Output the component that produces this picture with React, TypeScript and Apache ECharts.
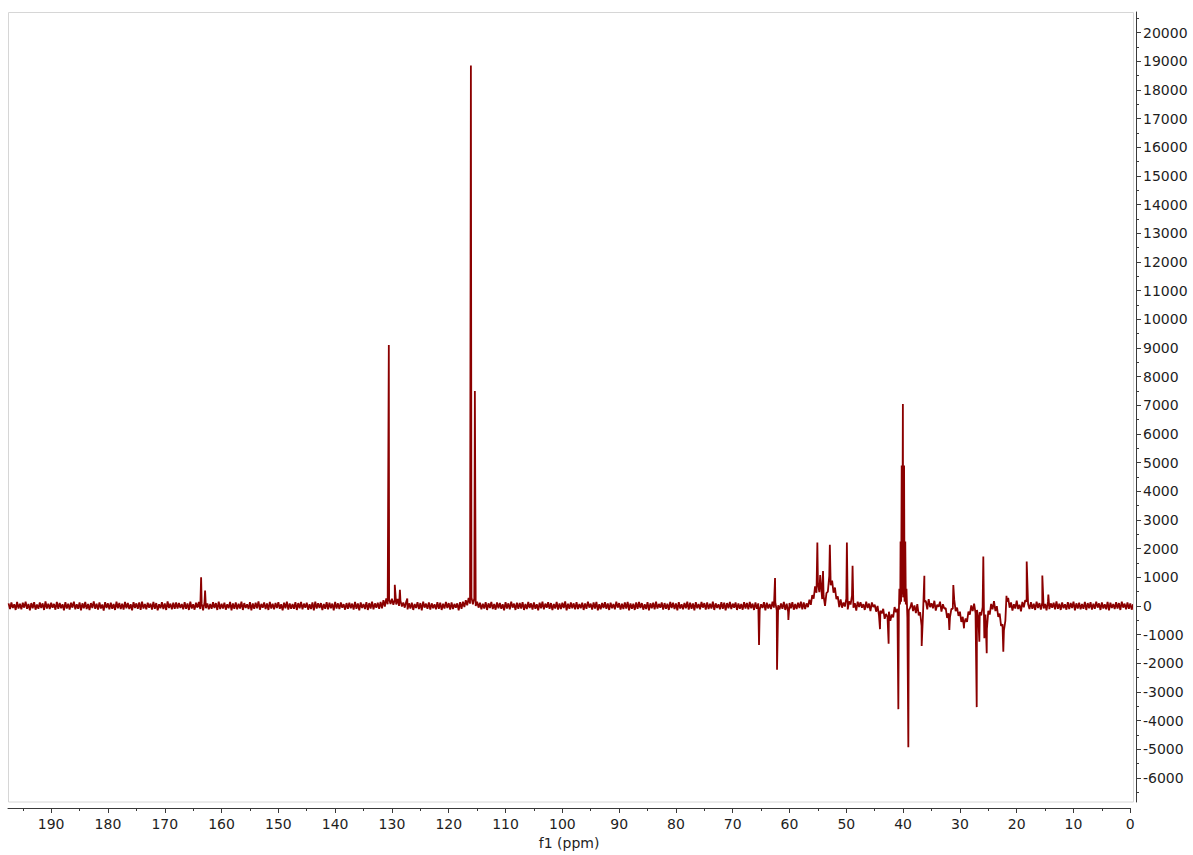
import React, { useEffect, useRef } from "react";
import * as echarts from "echarts";

// x axis: chemical shift f1 (ppm), drawn reversed (high ppm on the left)
const xMin = 0;
const xMax = 197.6;
const xMajorTicks = [0, 10, 20, 30, 40, 50, 60, 70, 80, 90, 100, 110, 120, 130, 140, 150, 160, 170, 180, 190];
const xMinorTicks = [5, 15, 25, 35, 45, 55, 65, 75, 85, 95, 105, 115, 125, 135, 145, 155, 165, 175, 185, 195];

// y axis: intensity
const yMin = -6840;
const yMax = 20720;
const yMajorTicks = [-6000, -5000, -4000, -3000, -2000, -1000, 0, 1000, 2000, 3000, 4000, 5000, 6000, 7000, 8000, 9000, 10000,
  11000, 12000, 13000, 14000, 15000, 16000, 17000, 18000, 19000, 20000];
const yMinorTicks = [-6500, -5500, -4500, -3500, -2500, -1500, -500, 500, 1500, 2500, 3500, 4500, 5500, 6500, 7500, 8500, 9500,
  10500, 11500, 12500, 13500, 14500, 15500, 16500, 17500, 18500, 19500, 20500];

// baseline: upper noise samples, one every 0.5 ppm starting at 197.5 ppm
const baselineStepPpm = 0.5;
const baselineUpperStartPpm = 197.5;
const baselineUpper = [
  90, 120, 60, 140, 80, 110, 150, 70, 100, 130, 50, 120, 90, 160, 80, 110, 70, 140, 100, 60,
  130, 80, 110, 150, 60, 120, 90, 140, 70, 100, 160, 80, 120, 50, 130, 90, 110, 70, 150, 100,
  80, 140, 100, 60, 130, 90, 120, 150, 70, 110, 80, 140, 100, 60, 130, 90, 160, 80, 110, 120,
  100, 70, 130, 90, 150, 60, 110, 140, 80, 120, 90, 70, 130, 100, 150, 80, 110, 60, 140, 90,
  120, 80, 150, 100, 60, 130, 90, 110, 160, 70, 120, 90, 140, 80, 100, 130, 60, 110, 150, 90,
  70, 130, 100, 140, 80, 110, 60, 120, 150, 90, 100, 70, 130, 110, 80, 140, 90, 120, 60, 100,
  110, 80, 140, 90, 120, 70, 130, 100, 150, 90, 110, 140, 200, 260, 230, 250, 220, 240, 180, 120,
  140, 90, 110, 70, 130, 100, 150, 80, 120, 90, 60, 130, 110, 80, 140, 100, 120, 70, 90, 130,
  150, 200, 280, 300, 260, 150, 110, 80, 130, 90, 140, 70, 120, 100, 60, 130, 90, 150, 80, 110,
  100, 130, 70, 140, 90, 120, 60, 110, 150, 80, 130, 100, 70, 140, 90, 110, 160, 80, 120, 90,
  130, 70, 110, 90, 150, 80, 120, 140, 60, 100, 130, 90, 110, 70, 150, 100, 80, 120, 140, 90,
  80, 120, 140, 100, 60, 130, 90, 110, 150, 70, 120, 100, 80, 140, 110, 90, 130, 60, 100, 150,
  110, 90, 130, 70, 140, 100, 120, 80, 150, 90, 60, 130, 110, 100, 140, 80, 120, 90, 70, 130,
  100, 140, 80, 120, 90, 60, 130, 110, 70, 150, 120, 20, 90, 140, 80, 100, 130, 70, 110, 150,
  120, 90, 220, 380, 680, 800, 820, 350, 450, 1050, 880, 640, 330, 230, 120, 250, 160, 360, 100, 150,
  130, 60, 150, 80, 120, 40, 0, -170, -100, -280, -200, -300, -40, -100, 220, 300, 250, -150, 120, 20,
  60, -220, -300, 180, 240, 90, 180, 40, 150, 60, -80, -260, -100, 220, -60, -200, -380, -440, -200, 20,
  80, -140, -220, -40, -300, -170, 70, 170, -10, -270, -640, -520, 280, 120, 60, 180, 40, 140, 200, 70,
  130, 80, 150, 100, 120, 70, 140, 90, 110, 160, 80, 120, 60, 130, 100, 150, 90, 110, 70, 140,
  100, 130, 80, 150, 90, 120, 60, 140, 110, 70, 130, 100, 150, 80, 120, 90, 60, 140, 100, 130,
];

// baseline: lower noise samples, one every 0.5 ppm starting at 197.25 ppm
const baselineLowerStartPpm = 197.25;
const baselineLower = [
  -110, -70, -140, -90, -120, -60, -100, -150, -80, -130, -100, -70, -140, -90, -110, -60, -130, -100, -80, -150,
  -90, -130, -60, -120, -100, -150, -80, -110, -140, -70, -100, -130, -90, -160, -70, -120, -100, -140, -80, -110,
  -130, -80, -110, -150, -70, -100, -140, -90, -120, -60, -130, -100, -150, -80, -110, -140, -70, -120, -100, -90,
  -70, -120, -100, -140, -90, -130, -60, -110, -150, -80, -120, -100, -70, -140, -110, -90, -130, -80, -150, -100,
  -120, -90, -140, -70, -110, -150, -100, -80, -130, -60, -110, -140, -90, -120, -70, -100, -150, -80, -130, -100,
  -100, -140, -80, -120, -60, -130, -110, -150, -90, -70, -140, -100, -120, -80, -150, -90, -110, -60, -130, -100,
  -80, -130, -100, -150, -70, -110, -140, -90, -120, -60, -100, -80, -20, 60, 70, 40, 50, 0, -20, -60,
  -120, -90, -140, -70, -110, -150, -60, -100, -130, -80, -120, -100, -140, -90, -70, -130, -110, -60, -150, -100,
  -40, 20, 80, 60, 0, -60, -120, -90, -140, -70, -110, -130, -80, -100, -150, -90, -120, -60, -140, -100,
  -90, -140, -110, -70, -130, -100, -150, -80, -120, -60, -100, -140, -90, -130, -110, -70, -150, -100, -80, -120,
  -110, -80, -140, -100, -60, -130, -90, -150, -120, -70, -100, -140, -80, -120, -60, -130, -110, -90, -150, -100,
  -140, -100, -70, -130, -110, -150, -80, -120, -90, -60, -130, -100, -140, -70, -110, -150, -90, -120, -80, -130,
  -100, -150, -80, -120, -60, -130, -110, -90, -140, -70, -120, -100, -150, -80, -110, -60, -140, -100, -130, -90,
  -120, -80, -140, -100, -130, -70, -150, -90, -110, -60, -150, -120, -100, -140, -200, -80, -130, -110, -70, -120,
  -110, -40, 40, 250, 460, 480, 240, 0, 500, 720, 460, 240, -40, -60, -20, -120, 50, -60, -160, -40,
  -60, -140, -70, -180, -40, -200, -330, -260, -450, -380, -520, -400, -220, -240, 4800, 200, -420, -60, -180, -250,
  -330, -700, 150, -120, -40, -80, -160, -30, -200, -90, -420, -400, -100, -180, -350, -560, -620, -560, -300, -180,
  -250, -430, -330, -550, -800, -300, -120, -180, -380, -700, -850, 150, -60, -160, -90, -110, -190, -50, 150, -110,
  -100, -140, -70, -130, -90, -150, -110, -60, -120, -100, -140, -80, -130, -110, -70, -150, -90, -120, -100, -140,
  -80, -130, -100, -60, -140, -90, -120, -150, -70, -110, -90, -140, -60, -120, -100, -130, -80, -110, -150, -90,
];

// resonances: position (ppm) and intensity
const peakPpm = [
  163.6, 162.9, 130.55, 129.5, 128.6, 127.3, 116.1, 115.4,
  65.37, 62.55, 62.2, 60.2, 55.1, 54.6, 54.1, 52.9, 49.9, 48.9, 44.07, 42.55, 40.84,
  40.66, 40.56, 40.45, 40.35, 40.25, 40.15, 40.04, 39.94, 39.83, 39.73, 39.62, 39.52, 39.41,
  39.08, 36.73, 36.26, 31.86, 31.16, 29.28, 27.04, 26.58, 25.88, 25.7, 25.28, 22.36, 21.8,
  18.24, 15.49, 14.43,
];
const peakIntensity = [
  1000, 540, 9100, 740, 560, 260, 18850, 7500,
  -1360, 970, -2230, -490, 2210, 1080, 1220, 2130, 2210, 1400, -810, -1320, -3600,
  600, 50, 2250, 150, 4900, 400, 7046, 400, 4900, 150, 2250, 50, 600,
  -4930, -1400, 1050, -840, 730, -780, -3530, -1250, 1720, -1130, -1650, -1600, 350,
  1550, 1060, 400,
];

const lineColor = "#8b0000";
const textColor = "#1e1e1e";
const axisColor = "#3a3a3a";
const font = "DejaVu Sans";

export default function App() {
  const ref = useRef<HTMLDivElement>(null);

  useEffect(() => {
    if (!ref.current) return;
    const chart = echarts.init(ref.current, null, { renderer: "svg" });

    const spectrum: number[][] = baselineUpper.map((v, i) => [baselineUpperStartPpm - i * baselineStepPpm, v]);
    baselineLower.forEach((v, i) => spectrum.push([baselineLowerStartPpm - i * baselineStepPpm, v]));
    peakPpm.forEach((p, i) => spectrum.push([p, peakIntensity[i]]));
    spectrum.sort((a, b) => b[0] - a[0]);

    const plain = (v: number) => String(v);

    chart.setOption({
      animation: false,
      backgroundColor: "#ffffff",
      grid: { left: 8, top: 12, right: 62.7, bottom: 53, containLabel: false },
      graphic: [
        {
          type: "rect",
          z: 0,
          silent: true,
          shape: { x: 8.5, y: 12.5, width: 1125, height: 789.5 },
          style: { fill: "none", stroke: "#d6d6d6", lineWidth: 1 },
        },
      ],
      xAxis: [
        {
          type: "value",
          min: xMin,
          max: xMax,
          inverse: true,
          position: "bottom",
          offset: 6,
          name: "f1 (ppm)",
          nameLocation: "middle",
          nameGap: 28,
          nameTextStyle: { fontFamily: font, fontSize: 14, color: textColor },
          axisLine: { show: true, onZero: false, lineStyle: { color: axisColor, width: 1 } },
          axisTick: { show: true, length: 5, inside: false, customValues: xMajorTicks, lineStyle: { color: axisColor } },
          axisLabel: { show: true, customValues: xMajorTicks, formatter: plain, margin: 9, fontFamily: font, fontSize: 14, color: textColor },
          splitLine: { show: false },
        },
        {
          type: "value",
          min: xMin,
          max: xMax,
          inverse: true,
          position: "bottom",
          offset: 6,
          axisLine: { show: false, onZero: false },
          axisTick: { show: true, length: 3, inside: false, customValues: xMinorTicks, lineStyle: { color: axisColor } },
          axisLabel: { show: false },
          splitLine: { show: false },
        },
      ],
      yAxis: [
        {
          type: "value",
          min: yMin,
          max: yMax,
          position: "right",
          offset: 5.7,
          axisLine: { show: true, onZero: false, lineStyle: { color: axisColor, width: 1 } },
          axisTick: { show: true, length: 5, inside: false, customValues: yMajorTicks, lineStyle: { color: axisColor } },
          axisLabel: { show: true, customValues: yMajorTicks, formatter: plain, margin: 7, fontFamily: font, fontSize: 14, color: textColor },
          splitLine: { show: false },
        },
        {
          type: "value",
          min: yMin,
          max: yMax,
          position: "right",
          offset: 5.7,
          axisLine: { show: false, onZero: false },
          axisTick: { show: true, length: 3, inside: false, customValues: yMinorTicks, lineStyle: { color: axisColor } },
          axisLabel: { show: false },
          splitLine: { show: false },
        },
      ],
      series: [
        {
          type: "line",
          xAxisIndex: 0,
          yAxisIndex: 0,
          data: spectrum,
          showSymbol: false,
          symbol: "none",
          clip: true,
          lineStyle: { color: lineColor, width: 1.8 },
          z: 3,
        },
      ],
    });

    return () => {
      chart.dispose();
    };
  }, []);

  return (
    <div
      ref={ref}
      style={{ position: "absolute", left: 0, top: 0, width: 1193, height: 855, background: "#fff" }}
    />
  );
}
